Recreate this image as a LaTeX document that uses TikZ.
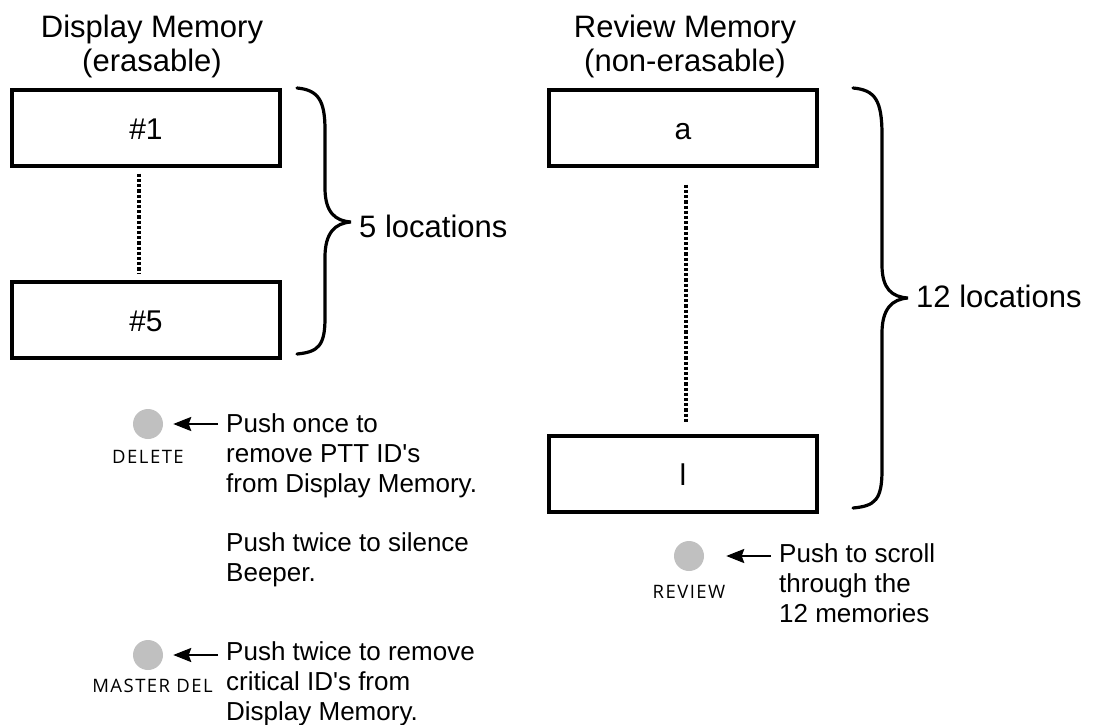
\documentclass[tikz,border=0pt]{standalone}
\usepackage{fontspec}
\setmainfont{Liberation Sans}[Ligatures=TeXOff]
\newfontfamily\lblfont{Open Sans}[LetterSpace=8]
\usetikzlibrary{arrows.meta}
\definecolor{btngray}{RGB}{192,192,192}
\newcommand{\mlines}[2]{\vtop{\baselineskip=#1\relax\lineskiplimit=-100pt\halign{##\hfil\cr#2\crcr}}}
\newcommand{\clines}[2]{\vtop{\baselineskip=#1\relax\lineskiplimit=-100pt\halign{\hfil##\hfil\cr#2\crcr}}}
\begin{document}
\begin{tikzpicture}[x=1pt,y=-1pt,
  memcell/.style={draw, line width=3.4pt, minimum width=268pt, minimum height=76pt, inner sep=0pt, text height=22pt, text depth=0pt, font=\fontsize{30}{36}\selectfont},
  dotline/.style={line width=3.4pt, dash pattern=on 3.2pt off 2pt},
  bracepath/.style={line width=3.2pt, line cap=round},
  head/.style={inner sep=0pt, anchor=base, font=\fontsize{31}{33}\selectfont},
  body/.style={inner sep=0pt, anchor=base west, font=\fontsize{26}{30}\selectfont},
  loc/.style={inner sep=0pt, anchor=base west, font=\fontsize{31}{36}\selectfont},
  button/.style={circle, fill=btngray, minimum size=30pt, inner sep=0pt},
  btnlabel/.style={inner sep=0pt, font=\lblfont\fontsize{18.5}{20}\selectfont},
  ptr/.style={line width=2.2pt, -{Stealth[length=18pt,width=14pt,inset=2.5pt]}}]
\useasboundingbox (0,0) rectangle (1100,725);

% headers
\node[head] (dmh) at (152,38) {\clines{33pt}{Display Memory\cr(erasable)}};
\node[head] (rmh) at (685,38) {\clines{33pt}{Review Memory\cr(non-erasable)}};

% display memory cells
\node[memcell] (d1) at (146,128) {\#1};
\node[memcell] (d5) at (146,320) {\#5};
\draw[dotline] ([xshift=-7pt,yshift=-6pt]d1.south) -- ([xshift=-7pt,yshift=6pt]d5.north);

% review memory cells
\node[memcell] (ra) at (683,128) {a};
\node[memcell] (rl) at (683,474) {l};
\draw[dotline] ([xshift=3pt,yshift=-17pt]ra.south) -- ([xshift=3pt,yshift=11pt]rl.north);

% braces
\draw[bracepath] (297,88) .. controls (318,90) and (325,100) .. (325,130) -- (325,188)
  .. controls (325,212) and (335,221) .. (351,222)
  .. controls (335,223) and (325,233) .. (325,257) -- (325,318)
  .. controls (325,346) and (318,352) .. (297,354);
\node[loc] (loc5) at (359,237) {5 locations};

\draw[bracepath] (853,88) .. controls (875,90) and (882,100) .. (882,135) -- (882,265)
  .. controls (882,289) and (892,297) .. (908,298)
  .. controls (892,299) and (882,309) .. (882,333) -- (882,470)
  .. controls (882,500) and (875,506) .. (853,508);
\node[loc] (loc12) at (916,307) {12 locations};

% DELETE button
\node[button] (del) at (148,424) {};
\node[btnlabel, anchor=base] (dell) at (148,463) {DELETE};
\coordinate (delt) at (218,424);
\draw[ptr, shorten >=10pt] (delt) -- (del);
\node[body] (delx) at (226,432) {\mlines{30pt}{Push once to\cr remove PTT ID's\cr from Display Memory.}};
\node[body] (delx2) at (226,551) {\mlines{30pt}{Push twice to silence\cr Beeper.}};

% MASTER DEL button
\node[button] (mdel) at (148,655) {};
\node[btnlabel, anchor=base east] (mdell) at (213,692) {MASTER DEL};
\coordinate (mdelt) at (218,655);
\draw[ptr, shorten >=10pt] (mdelt) -- (mdel);
\node[body] (mdelx) at (226,660) {\mlines{30pt}{Push twice to remove\cr critical ID's from\cr Display Memory.}};

% REVIEW button
\node[button] (rev) at (689,556) {};
\node[btnlabel, anchor=base] (revl) at (689,598) {REVIEW};
\coordinate (revt) at (771,556);
\draw[ptr, shorten >=22pt] (revt) -- (rev);
\node[body] (revx) at (779,562) {\mlines{30pt}{Push to scroll\cr through the\cr 12 memories}};
\end{tikzpicture}
\end{document}
